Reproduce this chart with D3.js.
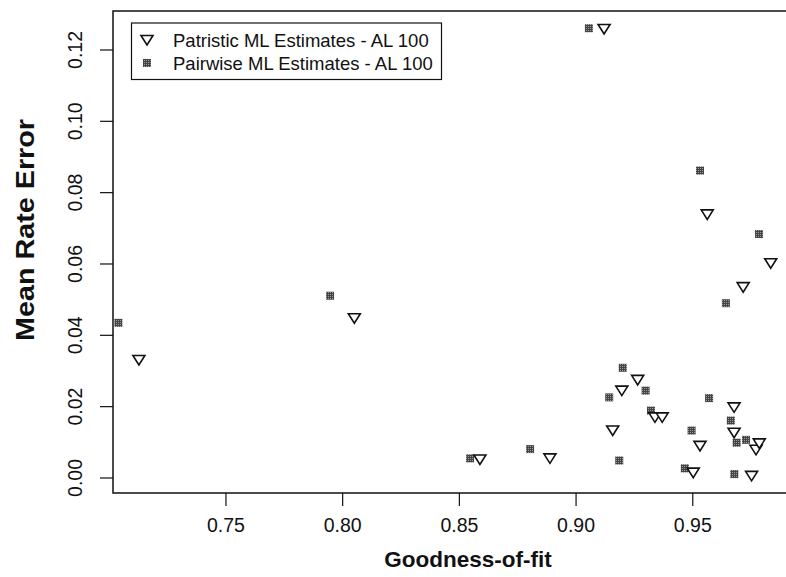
<!DOCTYPE html>
<html>
<head>
    <meta charset="utf-8">
    <title>Mean Rate Error vs Goodness-of-fit</title>
    <script src="https://d3js.org/d3.v7.min.js" charset="utf-8"></script>
    <style>
        html, body { margin: 0; padding: 0; background: #fff; }
        svg text { font-family: "Liberation Sans", Arial, Helvetica, sans-serif; fill: #111; }
        .frame { fill: none; stroke: #111; stroke-width: 1.5px; }
        .tick-line { stroke: #111; stroke-width: 1.2px; }
        .tick-label { font-size: 19.5px; }
        .axis-title { font-size: 22.5px; font-weight: bold; }
        .legend-text { font-size: 18.5px; }
    </style>
</head>
<body>
<div id="chart"></div>
<script>
    // goodness-of-fit values (x) and mean rate error (y), patristic estimates
    const patristicFit = [0.7127, 0.8050, 0.8588, 0.8888, 0.9120, 0.9157, 0.9196, 0.9264, 0.9338, 0.9369,
        0.9502, 0.9531, 0.9562, 0.9677, 0.9677, 0.9716, 0.9752, 0.9771, 0.9785, 0.9834];
    const patristicErr = [0.0331, 0.0448, 0.0052, 0.0055, 0.1259, 0.0133, 0.0245, 0.0275, 0.0170, 0.0170,
        0.0015, 0.0090, 0.0739, 0.0198, 0.0127, 0.0535, 0.0006, 0.0079, 0.0097, 0.0602];

    // pairwise estimates
    const pairwiseFit = [0.7039, 0.7946, 0.8546, 0.8803, 0.9055, 0.9142, 0.9185, 0.9200, 0.9298, 0.9321,
        0.9466, 0.9495, 0.9531, 0.9570, 0.9642, 0.9663, 0.9678, 0.9688, 0.9728, 0.9784];
    const pairwiseErr = [0.0435, 0.0511, 0.0055, 0.0081, 0.1261, 0.0226, 0.0049, 0.0309, 0.0245, 0.0189,
        0.0027, 0.0133, 0.0862, 0.0224, 0.0490, 0.0161, 0.0011, 0.0099, 0.0107, 0.0684];

    const xTicks = [0.75, 0.80, 0.85, 0.90, 0.95];
    const yTicks = [0.00, 0.02, 0.04, 0.06, 0.08, 0.10, 0.12];
    const legendLabels = ["Patristic ML Estimates - AL 100", "Pairwise ML Estimates - AL 100"];

    const width = 786, height = 577;
    // plot region (right side runs past the picture edge, as in the original)
    const plotLeft = 113, plotTop = 11, plotRight = 830, plotBottom = 493;

    const svg = d3.select("#chart").append("svg")
        .attr("width", width)
        .attr("height", height);

    // halftone grey fill for the squares
    const pat = svg.append("defs").append("pattern")
        .attr("id", "dots")
        .attr("width", 2).attr("height", 2)
        .attr("patternUnits", "userSpaceOnUse");
    pat.append("rect").attr("width", 2).attr("height", 2).attr("fill", "#444");
    pat.append("rect").attr("width", 1).attr("height", 1).attr("fill", "#9a9a9a");

    const x = d3.scaleLinear().domain([0.7016, 1.0088]).range([plotLeft, plotRight]);
    const y = d3.scaleLinear().domain([-0.00421, 0.13093]).range([plotBottom, plotTop]);

    // box
    svg.append("rect")
        .attr("class", "frame")
        .attr("x", plotLeft).attr("y", plotTop)
        .attr("width", plotRight - plotLeft).attr("height", plotBottom - plotTop);

    // x axis ticks + labels
    const xa = svg.append("g");
    xa.selectAll("line").data(xTicks).enter().append("line")
        .attr("class", "tick-line")
        .attr("x1", d => x(d)).attr("x2", d => x(d))
        .attr("y1", plotBottom).attr("y2", plotBottom + 13);
    xa.selectAll("text").data(xTicks).enter().append("text")
        .attr("class", "tick-label")
        .attr("x", d => x(d)).attr("y", 532)
        .attr("text-anchor", "middle")
        .text(d => d.toFixed(2));

    // y axis ticks + rotated labels
    const ya = svg.append("g");
    ya.selectAll("line").data(yTicks).enter().append("line")
        .attr("class", "tick-line")
        .attr("x1", plotLeft - 13).attr("x2", plotLeft)
        .attr("y1", d => y(d)).attr("y2", d => y(d));
    ya.selectAll("text").data(yTicks).enter().append("text")
        .attr("class", "tick-label")
        .attr("transform", d => "translate(82," + y(d) + ") rotate(-90)")
        .attr("text-anchor", "middle")
        .text(d => d.toFixed(2));

    // axis titles
    svg.append("text")
        .attr("class", "axis-title")
        .attr("x", 468).attr("y", 567)
        .attr("text-anchor", "middle")
        .text("Goodness-of-fit");
    svg.append("text")
        .attr("class", "axis-title")
        .attr("transform", "translate(34,230) rotate(-90)")
        .attr("text-anchor", "middle")
        .style("font-size", "25px")
        .attr("textLength", 222)
        .attr("lengthAdjust", "spacingAndGlyphs")
        .text("Mean Rate Error");

    const pairwise = pairwiseFit.map((v, i) => ({ fit: v, err: pairwiseErr[i] }));
    const patristic = patristicFit.map((v, i) => ({ fit: v, err: patristicErr[i] }));

    // down-pointing triangle around (cx, cy)
    function tri(cx, cy) {
        return "M" + (cx - 6) + "," + (cy - 4.5) + "L" + (cx + 6) + "," + (cy - 4.5) + "L" + cx + "," + (cy + 5) + "Z";
    }

    const plot = svg.append("g");
    plot.selectAll(".sq").data(pairwise).enter().append("rect")
        .attr("class", "sq")
        .attr("x", d => x(d.fit) - 4).attr("y", d => y(d.err) - 4)
        .attr("width", 8).attr("height", 8)
        .attr("fill", "url(#dots)");
    plot.selectAll(".tri").data(patristic).enter().append("path")
        .attr("class", "tri")
        .attr("d", d => tri(x(d.fit), y(d.err)))
        .attr("fill", "white")
        .attr("stroke", "#111")
        .attr("stroke-width", 1.6);

    // legend
    const lg = svg.append("g");
    lg.append("rect")
        .attr("x", 131.5).attr("y", 23)
        .attr("width", 310).attr("height", 56.5)
        .attr("fill", "white").attr("stroke", "#111").attr("stroke-width", 1.2);
    lg.append("path").attr("d", tri(147, 40))
        .attr("fill", "white").attr("stroke", "#111").attr("stroke-width", 1.6);
    lg.append("rect").attr("x", 143).attr("y", 59).attr("width", 8).attr("height", 8)
        .attr("fill", "url(#dots)");
    lg.selectAll(".legend-text").data(legendLabels).enter().append("text")
        .attr("class", "legend-text")
        .attr("x", 173).attr("y", (d, i) => 46.5 + i * 23)
        .text(d => d);
</script>
</body>
</html>
